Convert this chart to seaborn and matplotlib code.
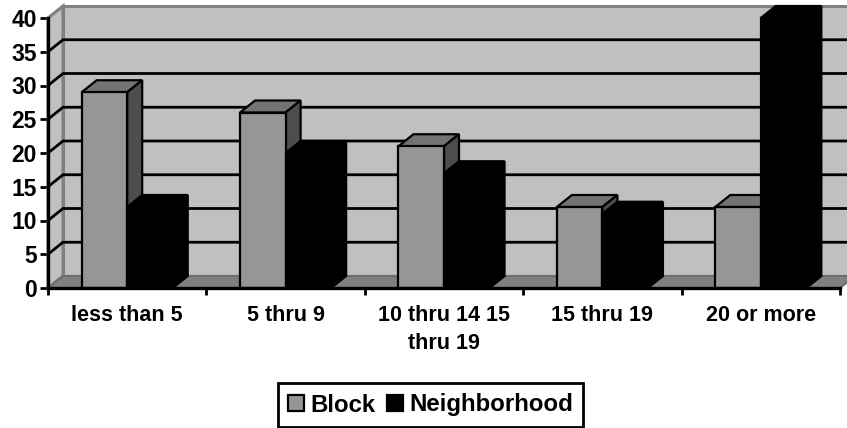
import matplotlib
matplotlib.use("Agg")
import matplotlib.pyplot as plt
from matplotlib.patches import Polygon
import pandas as pd
import seaborn as sns

categories = ["less than 5", "5 thru 9", "10 thru 14 15\nthru 19", "15 thru 19", "20 or more"]
block = [29, 26, 21, 12, 12]
neighborhood = [12, 20, 17, 11, 40]
y_ticks = [0, 5, 10, 15, 20, 25, 30, 35, 40]

W, H = 847, 428
LEFT, RIGHT, BASE, TOP = 48, 840, 288, 18
DEPTH_PX = (15, 12)
FONT = "Liberation Sans"

sns.set_style("white")
plt.rcParams["font.family"] = [FONT, "DejaVu Sans"]

frame = pd.DataFrame({
    "category": categories * 2,
    "series": ["Block"] * 5 + ["Neighborhood"] * 5,
    "value": block + neighborhood,
})

fig = plt.figure(figsize=(W / 100, H / 100), dpi=100, facecolor="white")
ax = fig.add_axes([LEFT / W, 1 - BASE / H, (RIGHT - LEFT) / W, (BASE - TOP) / H])

sns.barplot(
    data=frame, x="category", y="value", hue="series", ax=ax,
    palette={"Block": "#969696", "Neighborhood": "#000000"},
    width=0.575, gap=0, dodge=True, saturation=1,
    edgecolor="black", linewidth=1.6, legend=False,
)
ax.set_xlim(-0.5, 4.5)
ax.set_ylim(0, 40)

# Depth of the pseudo-3D box, expressed in data units
dx = DEPTH_PX[0] * 5 / (RIGHT - LEFT)
dy = DEPTH_PX[1] * 40 / (BASE - TOP)
x0, x1 = ax.get_xlim()
WALL, FLOOR, FRAME = "#c0c0c0", "#808080", "#808080"


def face(points, color, edge, z, lw=1.6):
    ax.add_patch(Polygon(points, closed=True, facecolor=color, edgecolor=edge,
                         linewidth=lw, zorder=z, clip_on=False, joinstyle="miter"))


# Back wall, side wall and floor
face([(x0 + dx, dy), (x1 + dx, dy), (x1 + dx, 40 + dy), (x0 + dx, 40 + dy)], WALL, FRAME, 0.5, 2.2)
face([(x0, 0), (x0 + dx, dy), (x0 + dx, 40 + dy), (x0, 40)], WALL, FRAME, 0.6, 2.2)
face([(x0, 0), (x1, 0), (x1 + dx, dy), (x0 + dx, dy)], FLOOR, "#6e6e6e", 0.7, 1.5)

# Gridlines run along the side wall and across the back wall
for tick in y_ticks[1:-1]:
    ax.plot([x0, x0 + dx, x1 + dx], [tick, tick + dy, tick + dy],
            color="black", linewidth=2, zorder=1, clip_on=False, solid_joinstyle="miter")

# Each bar gets a top and a side face from its own height
shades = [("#737373", "#4d4d4d", "black", 3), ("#000000", "#000000", "black", 5)]
for container, (top_c, side_c, edge_c, z) in zip(ax.containers, shades):
    for bar in container:
        a, b = bar.get_x(), bar.get_x() + bar.get_width()
        h = bar.get_height()
        face([(a, h), (b, h), (b + dx, h + dy), (a + dx, h + dy)], top_c, edge_c, z)
        face([(b, 0), (b + dx, dy), (b + dx, h + dy), (b, h)], side_c, edge_c, z)
        bar.set_zorder(z + 1)
        bar.set_clip_on(False)

ax.set_xlabel("")
ax.set_ylabel("")
ax.set_yticks(y_ticks)
ax.set_xticks([i + 0.5 for i in range(-1, 5)], minor=False)
ax.set_xticklabels([""] * 6)
ax.set_xticks(range(5), labels=categories, minor=True)
ax.tick_params(axis="x", which="major", length=5, width=2, color="black", bottom=True)
ax.tick_params(axis="x", which="minor", length=0, pad=12, labelsize=15.5)
ax.tick_params(axis="y", length=6, width=2, color="black", left=True, pad=2, labelsize=16.5)
for label in ax.get_xminorticklabels() + ax.get_yticklabels():
    label.set_fontweight("bold")
    label.set_color("black")
    label.set_fontfamily(FONT)
for label in ax.get_xminorticklabels():
    label.set_linespacing(1.45)

for name, spine in ax.spines.items():
    spine.set_visible(name in ("left", "bottom"))
    spine.set_color("black")
    spine.set_linewidth(2.4)
    spine.set_zorder(8)

handles = [ax.containers[0][0], ax.containers[1][0]]
legend = fig.legend(
    handles, ["Block", "Neighborhood"], ncol=2, loc="center",
    bbox_to_anchor=(430.5 / W, 1 - 405 / H), frameon=True, fancybox=False,
    edgecolor="black", framealpha=1, borderpad=0.42, handlelength=0.68, handleheight=0.68,
    handletextpad=0.25, columnspacing=0.5, labelcolor="black",
    prop={"family": FONT, "weight": "bold", "size": 17.3},
)
legend.get_frame().set_linewidth(2)

fig.savefig("out.png", dpi=100, facecolor="white")
